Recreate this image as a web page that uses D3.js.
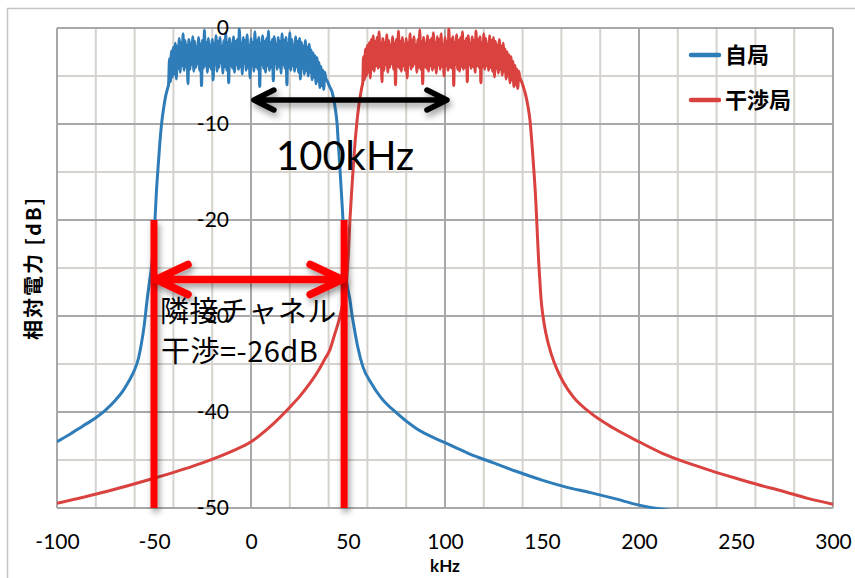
<!DOCTYPE html>
<html>
<head>
<meta charset="utf-8">
<script src="https://cdnjs.cloudflare.com/ajax/libs/d3/7.8.5/d3.min.js"></script>
<style>
body { margin: 0; background: #fff; }
</style>
</head>
<body>
<div id="chart"></div>
<script>
var w = 855;
var h = 578;

// tick labels
var xTicks = [-100, -50, 0, 50, 100, 150, 200, 250, 300];
var yTicks = [0, -10, -20, -30, -40, -50];
var seriesNames = ["自局", "干渉局"];
var seriesColors = ["#2e7cb8", "#d9423f"];

// 自局 (own station) : skirts as [kHz, dB], flat top sampled every 0.5 kHz from -42
var selfLeft = [[-100,-43.1],[-94,-42.4],[-87,-41.5],[-80,-40.6],[-75,-39.8],[-70,-38.8],[-66,-37.8],[-63,-36.8],
  [-60,-35.6],[-58,-34.4],[-56.5,-32.9],[-55,-30.9],[-53.6,-28.4],[-52.3,-26.4],[-51,-24.3],[-50.2,-22],
  [-49.5,-20],[-48.8,-17.2],[-48,-14.8],[-47,-12],[-46,-9.8],[-45,-8.3],[-44,-7.1],[-43,-6.3],[-42.5,-5.9]];
var selfTopStart = -42;
var selfTop = [
  -3.2,-5.6,-2.4,-5.1,-2.0,-4.8,-1.6,-5.3,-1.9,-4.2,
  -1.1,-4.6,-1.5,-3.9,-0.6,-4.4,-1.3,-4.0,-1.8,-5.8,
  -1.2,-4.3,-1.6,-3.8,-0.9,-4.5,-1.4,-4.1,-2.0,-3.7,
  -1.0,-4.4,-1.7,-6.0,-1.3,-4.2,-0.2,-3.9,-1.5,-4.6,
  -1.1,-4.0,-1.8,-4.3,-1.2,-5.4,-1.6,-3.8,-0.8,-4.5,
  -1.4,-4.1,-1.0,-3.6,-1.9,-4.7,-1.3,-4.0,-0.5,-4.4,
  -1.5,-5.7,-1.1,-3.9,-1.7,-4.2,-0.9,-4.6,-1.4,-3.8,
  -1.2,-4.3,-0.1,-4.0,-1.6,-4.8,-1.0,-3.7,-1.3,-4.4,
  -0.7,-4.1,-1.8,-5.2,-1.1,-3.9,-1.5,-4.5,-0.4,-4.0,
  -1.3,-4.3,-1.0,-6.1,-1.6,-3.8,-0.8,-4.2,-1.4,-4.6,
  -1.1,-3.9,-0.3,-4.4,-1.5,-4.1,-1.2,-5.5,-0.9,-3.7,
  -1.7,-4.3,-1.0,-4.0,-1.4,-4.7,-0.6,-3.8,-1.3,-4.2,
  -1.0,-5.9,-1.6,-4.1,-0.5,-4.4,-1.2,-3.9,-1.8,-4.5,
  -0.9,-4.0,-1.4,-4.6,-1.1,-5.3,-1.5,-4.2,-1.9,-4.8,
  -1.3,-4.4,-2.0,-5.0,-1.7,-4.6,-2.3,-5.4,-2.6,-5.1,
  -2.9,-5.8,-3.1,-5.5,-3.6,-6.2,-4.0,-6.0,-4.4,-6.4,
  -4.6];
var selfRight = [[38.5,-5.2],[39.5,-5.6],[40.5,-6.1],[41.7,-6.6],[42.8,-7.6],[43.6,-8.6],[44.3,-9.8],[45.1,-12.3],
  [45.9,-14.8],[46.7,-17.5],[47.4,-20],[48,-23],[49,-26],[50,-27.3],[51,-28.3],[52,-29.8],[53,-31],[55,-33.2],
  [57.7,-35.3],[62,-37],[67,-38.5],[75,-40.1],[85,-41.7],[100,-43.2],[112,-44.3],[125,-45.3],[137,-46.2],
  [150,-47.1],[162,-47.8],[175,-48.4],[187,-49],[200,-49.7],[218,-50.3],[240,-50.9],[270,-51.8],[300,-52.6]];

// 干渉局 (interfering station), flat top from 58 kHz
var intfLeft = [[-100,-49.5],[-75,-48.3],[-50,-46.9],[-25,-45.3],[-10,-44.1],[0,-43.1],[10,-41.5],[20,-39.5],
  [25,-38.4],[30.4,-37],[35,-35.6],[38,-34.5],[40.7,-33.5],[43,-32],[45,-30.7],[46.5,-29.5],[48,-28],
  [49.3,-26.3],[50.2,-23.5],[51,-20],[51.8,-17.3],[52.6,-14.8],[53.6,-12],[54.6,-9.8],[55.5,-8.2],
  [56.4,-7],[57.2,-6.1],[57.6,-5.7]];
var intfTopStart = 58;
var intfTop = [
  -3.0,-5.4,-2.2,-5.0,-1.8,-4.6,-1.5,-5.2,-1.2,-4.3,
  -0.8,-4.5,-1.4,-3.9,-1.0,-4.2,-0.4,-4.0,-1.6,-5.6,
  -1.1,-4.4,-1.5,-3.8,-0.7,-4.6,-1.3,-4.1,-1.8,-3.7,
  -0.9,-4.3,-1.6,-5.9,-1.2,-4.0,-0.3,-4.2,-1.4,-4.5,
  -1.0,-3.9,-1.7,-4.4,-1.1,-5.2,-1.5,-3.8,-0.6,-4.3,
  -1.3,-4.0,-0.9,-3.7,-1.8,-4.6,-1.2,-4.1,-0.2,-4.3,
  -1.4,-5.8,-1.0,-4.0,-1.6,-4.2,-0.8,-4.5,-1.3,-3.9,
  -1.1,-4.4,-0.5,-4.1,-1.5,-4.7,-0.9,-3.8,-1.2,-4.3,
  -0.6,-4.0,-1.7,-5.0,-1.0,-3.9,-1.4,-4.4,-0.1,-4.1,
  -1.2,-4.2,-0.9,-6.0,-1.5,-3.8,-0.7,-4.3,-1.3,-4.5,
  -1.0,-4.0,-0.4,-4.3,-1.4,-4.1,-1.1,-5.6,-0.8,-3.8,
  -1.6,-4.2,-0.9,-4.0,-1.3,-4.6,-0.3,-3.9,-1.2,-4.1,
  -0.9,-5.7,-1.5,-4.0,-0.6,-4.3,-1.1,-3.9,-1.7,-4.4,
  -0.8,-4.1,-1.3,-4.5,-1.0,-5.1,-1.4,-4.2,-1.8,-4.7,
  -1.2,-4.3,-1.9,-4.9,-1.6,-4.5,-2.2,-5.3,-2.5,-5.0,
  -2.8,-5.7,-3.0,-5.4,-3.5,-6.1,-3.9,-5.9,-4.3,-6.3,
  -4.5];
var intfRight = [[138.5,-5.1],[139.5,-5.6],[140.5,-6.2],[141.6,-7],[142.7,-8.1],[143.8,-9.6],[144.8,-12],
  [145.8,-14.8],[146.8,-18],[147.5,-21],[148.2,-24],[148.8,-26],[149.5,-28.2],[150.5,-30],[152,-31.8],
  [155,-34.1],[158,-35.7],[161,-36.9],[166,-38.4],[175,-40.1],[187,-41.7],[200,-43.1],[212,-44.3],
  [225,-45.3],[237,-46.1],[250,-46.9],[262,-47.6],[275,-48.3],[287,-49],[300,-49.6]];
var topStep = 0.5;

// annotations [kHz, dB]
var spanArrow = [[1.5, -7.5], [101, -7.5]];
var acLines = [[-50, 48], [-20, -50]];   // x positions, dB from/to
var acArrowDb = -26.2;

var x = d3.scaleLinear().domain([-100, 300]).range([57, 833]);
var y = d3.scaleLinear().domain([-50, 0]).range([508, 28]);

function build(left, top, start, right) {
  var mid = top.map(function(v, i) { return [start + i * topStep, v]; });
  return left.concat(mid).concat(right);
}
var series = [build(selfLeft, selfTop, selfTopStart, selfRight),
              build(intfLeft, intfTop, intfTopStart, intfRight)];

var svg = d3.select("#chart").append("svg")
  .attr("width", w).attr("height", h);

var defs = svg.append("defs");
defs.append("clipPath").attr("id", "plot")
  .append("rect").attr("x", 57).attr("y", 27).attr("width", 776).attr("height", 482);
var f = defs.append("filter").attr("id", "shadow")
  .attr("filterUnits", "userSpaceOnUse")
  .attr("x", 0).attr("y", 0).attr("width", w).attr("height", h);
f.append("feDropShadow").attr("dx", 2).attr("dy", 4).attr("stdDeviation", 3)
  .attr("flood-color", "#000").attr("flood-opacity", 0.4);

// outer chart frame
svg.append("path").attr("d", "M7.5," + h + "V8.5H" + w)
  .attr("fill", "none").attr("stroke", "#c4c4c4").attr("stroke-width", 1.5);

// grid
var gx = x.ticks(16), gy = y.ticks(10);
var grid = svg.append("g");
[false, true].forEach(function(major) {
  grid.selectAll(null)
    .data(gx.filter(function(d) { return (d % 50 === 0) === major; }))
    .enter().append("line")
    .attr("x1", function(d) { return x(d); }).attr("x2", function(d) { return x(d); })
    .attr("y1", y(0)).attr("y2", y(-50))
    .attr("stroke", major ? "#a8a8a8" : "#d6d2cd").attr("stroke-width", 2);
  grid.selectAll(null)
    .data(gy.filter(function(d) { return (d % 10 === 0) === major; }))
    .enter().append("line")
    .attr("y1", function(d) { return y(d); }).attr("y2", function(d) { return y(d); })
    .attr("x1", x(-100)).attr("x2", x(300))
    .attr("stroke", major ? "#a8a8a8" : "#d6d2cd").attr("stroke-width", 2);
});

// series
var line = d3.line().curve(d3.curveMonotoneX)
  .x(function(d) { return x(d[0]); }).y(function(d) { return y(d[1]); });
svg.append("g").attr("clip-path", "url(#plot)")
  .selectAll("path").data(series).enter().append("path")
  .attr("d", line)
  .attr("fill", "none")
  .attr("stroke", function(d, i) { return seriesColors[i]; })
  .attr("stroke-width", 3)
  .attr("stroke-linejoin", "round");

// axes labels
var fmt = function(d) { return String(d); };
var xAxis = svg.append("g").attr("transform", "translate(0," + y(-50) + ")")
  .call(d3.axisBottom(x).tickValues(xTicks).tickFormat(fmt).tickSize(0).tickPadding(26));
xAxis.attr("font-family", "Lato, sans-serif").attr("font-size", 21);
xAxis.select(".domain").remove();

var yAxis = svg.append("g").attr("transform", "translate(" + x(0) + ",0)")
  .call(d3.axisLeft(y).tickValues(yTicks).tickFormat(fmt).tickSize(0).tickPadding(22));
yAxis.attr("font-family", "Lato, sans-serif").attr("font-size", 21);
yAxis.select(".domain").remove();

svg.append("text").text("kHz")
  .attr("x", (x(-100) + x(300)) / 2).attr("y", 572)
  .attr("text-anchor", "middle")
  .attr("font-family", "Lato, sans-serif").attr("font-weight", "bold").attr("font-size", 17);

svg.append("text").text("相対電力 [dB]")
  .attr("transform", "translate(41," + (y(0) + y(-50)) / 2 + ") rotate(-90)")
  .attr("text-anchor", "middle")
  .attr("letter-spacing", 2)
  .attr("font-family", "'Noto Sans CJK JP', sans-serif").attr("font-weight", "bold").attr("font-size", 20);

// 100kHz arrow
var ann = svg.append("g");
function dblArrow(g, x1, x2, yy, head, spread, color, width) {
  var d = "M" + x1 + "," + yy + "H" + x2 +
    "M" + (x1 + head) + "," + (yy - spread) + "L" + x1 + "," + yy + "L" + (x1 + head) + "," + (yy + spread) +
    "M" + (x2 - head) + "," + (yy - spread) + "L" + x2 + "," + yy + "L" + (x2 - head) + "," + (yy + spread);
  g.append("path").attr("d", d).attr("fill", "none")
    .attr("stroke", color).attr("stroke-width", width)
    .attr("stroke-linecap", "round").attr("stroke-linejoin", "round")
    .attr("filter", "url(#shadow)");
}
dblArrow(ann, x(spanArrow[0][0]), x(spanArrow[1][0]), y(spanArrow[0][1]), 20, 10, "#000", 5.5);

ann.append("text").text("100kHz")
  .attr("x", 276).attr("y", 170)
  .attr("font-family", "Lato, sans-serif").attr("font-size", 40);

// adjacent channel lines and arrow
ann.selectAll(null).data(acLines[0]).enter().append("line")
  .attr("x1", function(d) { return x(d); }).attr("x2", function(d) { return x(d); })
  .attr("y1", y(acLines[1][0])).attr("y2", y(acLines[1][1]))
  .attr("stroke", "#ff0000").attr("stroke-width", 7)
  .attr("filter", "url(#shadow)");
dblArrow(ann, x(acLines[0][0]) + 2, x(acLines[0][1]) - 2, y(acArrowDb), 32, 15, "#ff0000", 7.5);

ann.append("text").text("隣接チャネル")
  .attr("x", 160).attr("y", 322)
  .attr("letter-spacing", 0.5)
  .attr("font-family", "'Noto Sans CJK JP', sans-serif").attr("font-size", 29);
ann.append("text").text("干渉=-26dB")
  .attr("x", 161).attr("y", 362)
  .attr("letter-spacing", 0.5)
  .attr("font-family", "'Noto Sans CJK JP', sans-serif").attr("font-size", 29);

// legend
var legend = svg.append("g");
seriesNames.forEach(function(name, i) {
  var ly = 55 + i * 45;
  legend.append("line").attr("x1", 691).attr("x2", 719).attr("y1", ly).attr("y2", ly)
    .attr("stroke", seriesColors[i]).attr("stroke-width", 4.5).attr("stroke-linecap", "round");
  legend.append("text").text(name).attr("x", 725).attr("y", ly + 8)
    .attr("font-family", "'Noto Sans CJK JP', sans-serif").attr("font-weight", "bold").attr("font-size", 22);
});
</script>
</body>
</html>
